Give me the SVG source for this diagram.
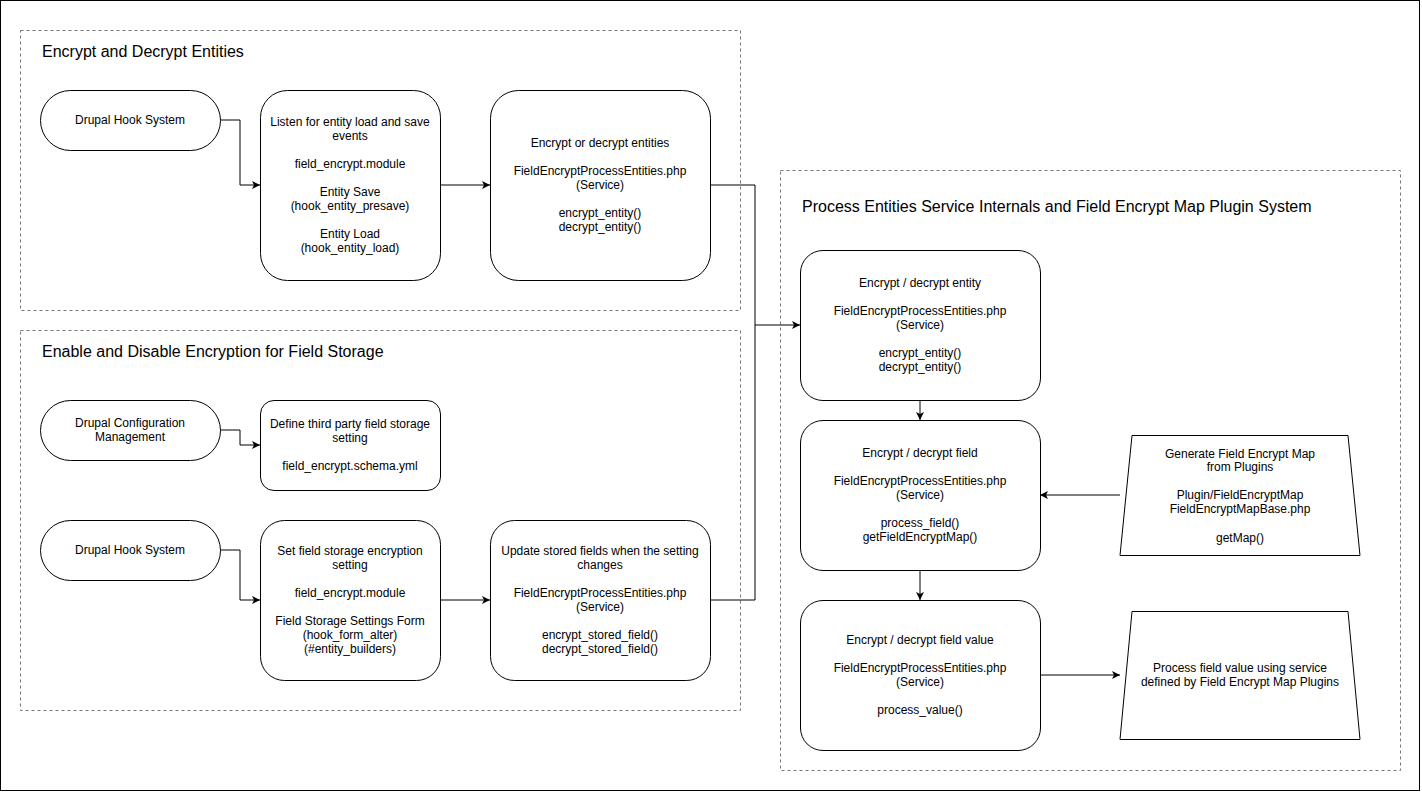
<svg xmlns="http://www.w3.org/2000/svg" width="1422" height="792" viewBox="0 0 1422 792">
<style>
text{font-family:"Liberation Sans",Arial,sans-serif;fill:#000}
.t{font-size:12px;text-anchor:middle}
.h{font-size:16px}
.n{fill:#fff;stroke:#000;stroke-width:1}
.g{fill:none;stroke:#777;stroke-width:1;stroke-dasharray:3 3}
.c{fill:none;stroke:#000;stroke-width:1}
</style>
<defs>
<marker id="a" markerUnits="userSpaceOnUse" markerWidth="9" markerHeight="8" refX="8" refY="4" orient="auto">
<path d="M0,0 L8,4 L0,8 L2,4 z" fill="#000"/>
</marker>
</defs>
<rect x="0" y="0" width="1422" height="792" fill="#fff"/>
<rect x="0.5" y="0.5" width="1419" height="790" fill="none" stroke="#000"/>

<g id="group-encrypt-decrypt">
<rect class="g" x="20.5" y="30.5" width="720" height="280"/>
<text class="h" x="42" y="57">Encrypt and Decrypt Entities</text>
</g>
<g id="group-field-storage">
<rect class="g" x="20.5" y="330.5" width="720" height="380"/>
<text class="h" x="42" y="357">Enable and Disable Encryption for Field Storage</text>
</g>
<g id="group-internals">
<rect class="g" x="780.5" y="170.5" width="620" height="600"/>
<text class="h" x="802" y="212">Process Entities Service Internals and Field Encrypt Map Plugin System</text>
</g>

<g id="connectors">
<path class="c" d="M220,120 H240 V185 H260" marker-end="url(#a)"/>
<path class="c" d="M440,185 H490" marker-end="url(#a)"/>
<path class="c" d="M710,185 H755 V325 H800" marker-end="url(#a)"/>
<path class="c" d="M710,600 H755 V325"/>
<path class="c" d="M220,430 H240 V445 H260" marker-end="url(#a)"/>
<path class="c" d="M220,550 H240 V600 H260" marker-end="url(#a)"/>
<path class="c" d="M440,600 H490" marker-end="url(#a)"/>
<path class="c" d="M920,400 V420" marker-end="url(#a)"/>
<path class="c" d="M920,570 V600" marker-end="url(#a)"/>
<path class="c" d="M1120,495 H1040" marker-end="url(#a)"/>
<path class="c" d="M1040,675 H1120" marker-end="url(#a)"/>
</g>

<g id="hook-system-1">
<rect class="n" x="40.5" y="90.5" width="180" height="60" rx="30"/>
<text class="t" x="130" y="124">Drupal Hook System</text>
</g>
<g id="listen-events">
<rect class="n" x="260.5" y="90.5" width="180" height="190" rx="27"/>
<text class="t" x="350" y="126">Listen for entity load and save</text>
<text class="t" x="350" y="140">events</text>
<text class="t" x="350" y="168">field_encrypt.module</text>
<text class="t" x="350" y="196">Entity Save</text>
<text class="t" x="350" y="210">(hook_entity_presave)</text>
<text class="t" x="350" y="238">Entity Load</text>
<text class="t" x="350" y="252">(hook_entity_load)</text>
</g>
<g id="encrypt-decrypt-entities">
<rect class="n" x="490.5" y="90.5" width="220" height="190" rx="28"/>
<text class="t" x="600" y="147">Encrypt or decrypt entities</text>
<text class="t" x="600" y="175">FieldEncryptProcessEntities.php</text>
<text class="t" x="600" y="189">(Service)</text>
<text class="t" x="600" y="217">encrypt_entity()</text>
<text class="t" x="600" y="231">decrypt_entity()</text>
</g>

<g id="config-management">
<rect class="n" x="40.5" y="400.5" width="180" height="60" rx="30"/>
<text class="t" x="130" y="427">Drupal Configuration</text>
<text class="t" x="130" y="441">Management</text>
</g>
<g id="define-setting">
<rect class="n" x="260.5" y="400.5" width="180" height="90" rx="13.5"/>
<text class="t" x="350" y="428">Define third party field storage</text>
<text class="t" x="350" y="442">setting</text>
<text class="t" x="350" y="470">field_encrypt.schema.yml</text>
</g>
<g id="hook-system-2">
<rect class="n" x="40.5" y="520.5" width="180" height="60" rx="30"/>
<text class="t" x="130" y="554">Drupal Hook System</text>
</g>
<g id="set-setting">
<rect class="n" x="260.5" y="520.5" width="180" height="160" rx="24"/>
<text class="t" x="350" y="555">Set field storage encryption</text>
<text class="t" x="350" y="569">setting</text>
<text class="t" x="350" y="597">field_encrypt.module</text>
<text class="t" x="350" y="625">Field Storage Settings Form</text>
<text class="t" x="350" y="639">(hook_form_alter)</text>
<text class="t" x="350" y="653">(#entity_builders)</text>
</g>
<g id="update-stored-fields">
<rect class="n" x="490.5" y="520.5" width="220" height="160" rx="24"/>
<text class="t" x="600" y="555">Update stored fields when the setting</text>
<text class="t" x="600" y="569">changes</text>
<text class="t" x="600" y="597">FieldEncryptProcessEntities.php</text>
<text class="t" x="600" y="611">(Service)</text>
<text class="t" x="600" y="639">encrypt_stored_field()</text>
<text class="t" x="600" y="653">decrypt_stored_field()</text>
</g>

<g id="encrypt-entity">
<rect class="n" x="800.5" y="250.5" width="240" height="150" rx="22.5"/>
<text class="t" x="920" y="287">Encrypt / decrypt entity</text>
<text class="t" x="920" y="315">FieldEncryptProcessEntities.php</text>
<text class="t" x="920" y="329">(Service)</text>
<text class="t" x="920" y="357">encrypt_entity()</text>
<text class="t" x="920" y="371">decrypt_entity()</text>
</g>
<g id="encrypt-field">
<rect class="n" x="800.5" y="420.5" width="240" height="150" rx="22.5"/>
<text class="t" x="920" y="457">Encrypt / decrypt field</text>
<text class="t" x="920" y="485">FieldEncryptProcessEntities.php</text>
<text class="t" x="920" y="499">(Service)</text>
<text class="t" x="920" y="527">process_field()</text>
<text class="t" x="920" y="541">getFieldEncryptMap()</text>
</g>
<g id="encrypt-field-value">
<rect class="n" x="800.5" y="600.5" width="240" height="150" rx="22.5"/>
<text class="t" x="920" y="644">Encrypt / decrypt field value</text>
<text class="t" x="920" y="672">FieldEncryptProcessEntities.php</text>
<text class="t" x="920" y="686">(Service)</text>
<text class="t" x="920" y="714">process_value()</text>
</g>
<g id="generate-map">
<path class="n" d="M1132,435.5 H1348 L1360,555.5 H1120 Z"/>
<text class="t" x="1240" y="458">Generate Field Encrypt Map</text>
<text class="t" x="1240" y="471">from Plugins</text>
<text class="t" x="1240" y="499">Plugin/FieldEncryptMap</text>
<text class="t" x="1240" y="513">FieldEncryptMapBase.php</text>
<text class="t" x="1240" y="542">getMap()</text>
</g>
<g id="process-value-plugins">
<path class="n" d="M1132,611.5 H1348 L1360,739.5 H1120 Z"/>
<text class="t" x="1240" y="672">Process field value using service</text>
<text class="t" x="1240" y="686">defined by Field Encrypt Map Plugins</text>
</g>
</svg>
